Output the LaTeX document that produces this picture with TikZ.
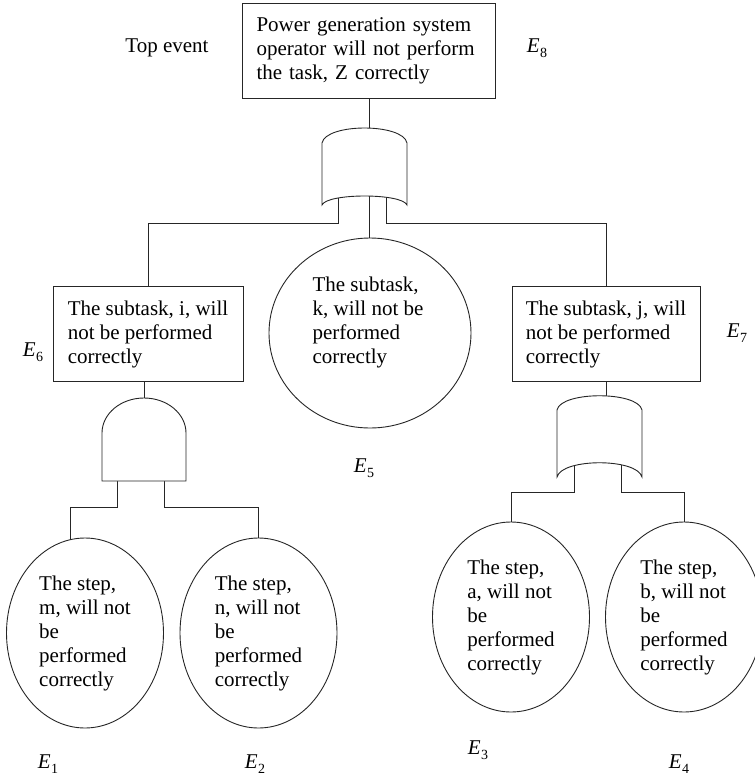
\documentclass[tikz,border=0pt]{standalone}
\usepackage{fontspec}
\setmainfont{Liberation Serif}
\usetikzlibrary{shapes.geometric}
% event label: italic E with a lowered index
\newcommand{\ev}[1]{\textit{E}\kern0.3pt\raisebox{-4.5pt}{\fontsize{14}{14}\selectfont #1}}

\begin{document}
\begin{tikzpicture}[x=1pt,y=-1pt,
  every node/.style={font=\fontsize{21}{24}\selectfont},
  line/.style={draw=black!85, line width=0.9pt},
  eventbox/.style={draw=black!85, line width=0.9pt, rectangle, align=left,
    inner ysep=0pt, minimum height=95pt},
  basic/.style={draw=black!85, line width=0.9pt, ellipse, inner sep=0pt, align=left,
    minimum width=157pt, minimum height=190pt},
  gate/.style={draw=black!85, line width=0.9pt, fill=white},
  lbl/.style={inner sep=0pt}]
\useasboundingbox (0,0) rectangle (755,780);

% events
\node[eventbox, text width=225pt, inner xsep=14pt] (e8) at (369,50.5)
  {Power generation system\\operator will not perform\\the task, Z correctly};
\node[eventbox, minimum width=190pt] (e6) at (148,334)
  {The subtask, i, will\\not be performed\\correctly};
\node[eventbox, minimum width=188pt] (e7) at (606,334)
  {The subtask, j, will\\not be performed\\correctly};
\node[basic, minimum width=202pt] (e5) at (370,333) {};
\node[inner sep=0pt, align=left] (e5text) at (368,322)
  {The subtask,\\k, will not be\\performed\\correctly};
\node[basic] (e1) at (85,633) {The step,\\m, will not\\be\\performed\\correctly};
\node[basic] (e2) at (258.5,633) {The step,\\n, will not\\be\\performed\\correctly};
\node[basic] (e3) at (511,617) {The step,\\a, will not\\be\\performed\\correctly};
\node[basic] (e4) at (684,617) {The step,\\b, will not\\be\\performed\\correctly};

% gate terminals
\coordinate (g1in) at (369,128);
\coordinate (g1mid) at (369,196);
\coordinate (g1l) at (338,196);
\coordinate (g1r) at (386,196);
\coordinate (g2in) at (144,398);
\coordinate (g2l) at (117,481);
\coordinate (g2r) at (164,481);
\coordinate (g3in) at (606,396);
\coordinate (g3l) at (574,463);
\coordinate (g3r) at (621,463);

% connectors
\draw[line] (e8.south) -- (g1in);
\draw[line] (g1l) -- ++(0,27) -| (e6.north);
\draw[line] (g1r) -- ++(0,27) -| (e7.north);
\draw[line] (g1mid) -- (g1mid |- e5.north);
\draw[line] (e6.south -| g2in) -- (g2in);
\draw[line] (g2l) -- ++(0,26) -| (e1.99);
\draw[line] (g2r) -- ++(0,26) -| (e2.north);
\draw[line] (e7.south) -- (g3in);
\draw[line] (g3l) -- ++(0,29) -| (e3.north);
\draw[line] (g3r) -- ++(0,29) -| (e4.north);

% OR gate under the top event
\draw[gate] (322,205) -- (322,143) .. controls (326,123) and (403,123) .. (407,143)
  -- (407,205) .. controls (402,193) and (327,193) .. (322,205) -- cycle;
% AND gate under E6
\draw[gate] (102,481) -- (102,433) .. controls (102,413.7) and (120.8,398) .. (144,398)
  .. controls (167.2,398) and (186,413.7) .. (186,433) -- (186,481) -- cycle;
% OR gate under E7
\draw[gate] (557,477) -- (557,410) .. controls (561,391) and (638,391) .. (642,410)
  -- (642,477) .. controls (637,458) and (562,458) .. (557,477) -- cycle;

% labels
\node[lbl] (top) at (167,48) {Top event};
\node[lbl] (l8) at (537,48) {\ev{8}};
\node[lbl] (l6) at (33,352) {\ev{6}};
\node[lbl] (l7) at (737,333) {\ev{7}};
\node[lbl] (l5) at (364,468) {\ev{5}};
\node[lbl] (l1) at (48,764) {\ev{1}};
\node[lbl] (l2) at (255,764) {\ev{2}};
\node[lbl] (l3) at (478,750) {\ev{3}};
\node[lbl] (l4) at (679,764) {\ev{4}};
\end{tikzpicture}
\end{document}
